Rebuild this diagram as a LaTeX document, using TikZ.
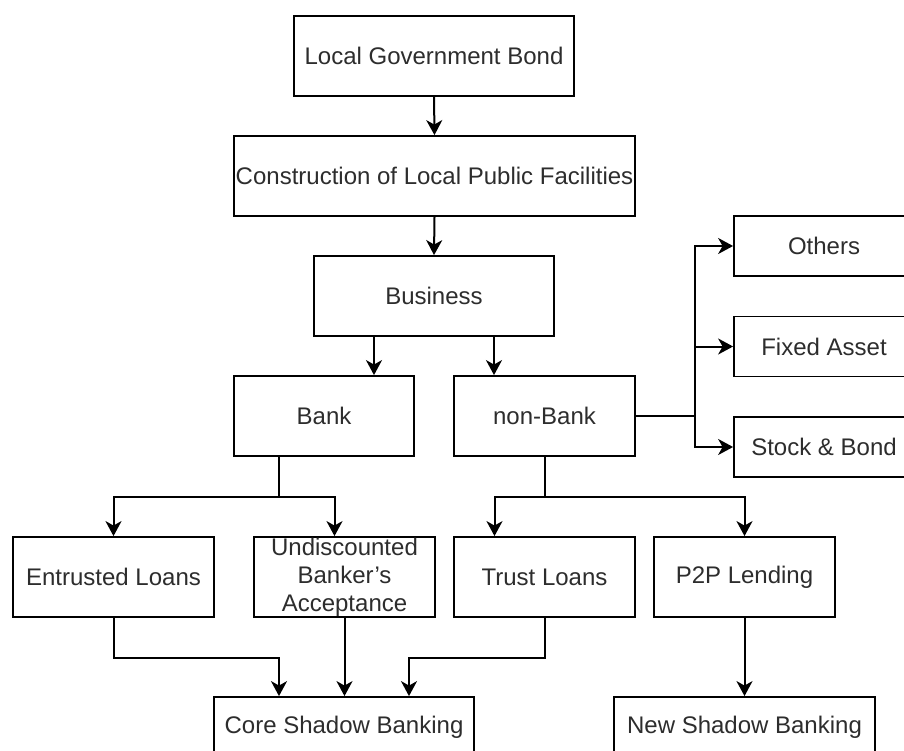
\documentclass[tikz,border=0pt]{standalone}
\usepackage{fontspec}
\setmainfont{Liberation Sans}
\usetikzlibrary{arrows.meta}
\definecolor{txt}{RGB}{45,45,45}
\begin{document}
\begin{tikzpicture}[x=1pt,y=-1pt,
  box/.style={draw=black,line width=1.8pt,fill=white,inner sep=0pt,text=txt,
    font=\fontsize{24}{28}\selectfont,align=center},
  arr/.style={draw=black,line width=2pt,-{Stealth[length=15pt,width=16pt,inset=4.5pt]}},
  ln/.style={draw=black,line width=2pt}]
\useasboundingbox (0,0) rectangle (904,751);
\node[box,minimum width=280,minimum height=80] (lgb) at (434,56) {Local Government Bond};
\node[box,minimum width=401,minimum height=80] (cons) at (434.5,176) {Construction of Local Public Facilities};
\node[box,minimum width=240,minimum height=80] (bus) at (434,296) {Business};
\node[box,minimum width=180,minimum height=80] (bank) at (324,416) {Bank};
\node[box,minimum width=181,minimum height=80] (nonbank) at (544.5,416) {non-Bank};
\node[box,minimum width=180,minimum height=60] (others) at (824,246) {Others};
\node[box,minimum width=180,minimum height=60] (fixed) at (824,346.5) {Fixed Asset};
\node[box,minimum width=180,minimum height=60] (stock) at (824,447) {Stock \& Bond};
\node[box,minimum width=201,minimum height=80] (entr) at (113.5,577) {Entrusted Loans};
\node[box,minimum width=181,minimum height=80] (undis) at (344.5,577) {Undiscounted\\Banker's\\Acceptance};
\node[box,minimum width=181,minimum height=80] (trust) at (544.5,577) {Trust Loans};
\node[box,minimum width=181,minimum height=80] (p2p) at (744.5,577) {P2P Lending};
\node[box,minimum width=260,minimum height=60] (core) at (344,727) {Core Shadow Banking};
\node[box,minimum width=261,minimum height=60] (newsb) at (744.5,727) {New Shadow Banking};

\draw[arr] (lgb.south) -- (cons.north);
\draw[arr] (cons.south) -- (bus.north);
\draw[arr] ([xshift=-60pt]bus.south) -- ([xshift=-60pt]bus.south |- bank.north);
\draw[arr] ([xshift=60pt]bus.south) -- ([xshift=60pt]bus.south |- nonbank.north);

\coordinate (nb) at ([xshift=59pt]nonbank.east);
\draw[ln] (nonbank.east) -- (nb);
\draw[arr] (nb) |- (others.west);
\draw[arr] (nb) |- (fixed.west);
\draw[arr] (nb) |- (stock.west);

\draw[ln] ([xshift=-45pt]bank.south) -- ++(0,40) coordinate (bk);
\draw[arr] (bk) -| (entr.north);
\draw[arr] (bk) -| ([xshift=-10pt]undis.north);

\draw[ln] (nonbank.south) -- ++(0,40) coordinate (nk);
\draw[arr] (nk) -| ([xshift=-50pt]trust.north);
\draw[arr] (nk) -| (p2p.north);

\draw[arr] (entr.south) -- ++(0,40) -| ([xshift=-65pt]core.north);
\draw[arr] (undis.south) -- (undis.south |- core.north);
\draw[arr] (trust.south) -- ++(0,40) -| ([xshift=65pt]core.north);
\draw[arr] (p2p.south) -- (p2p.south |- newsb.north);
\end{tikzpicture}
\end{document}
